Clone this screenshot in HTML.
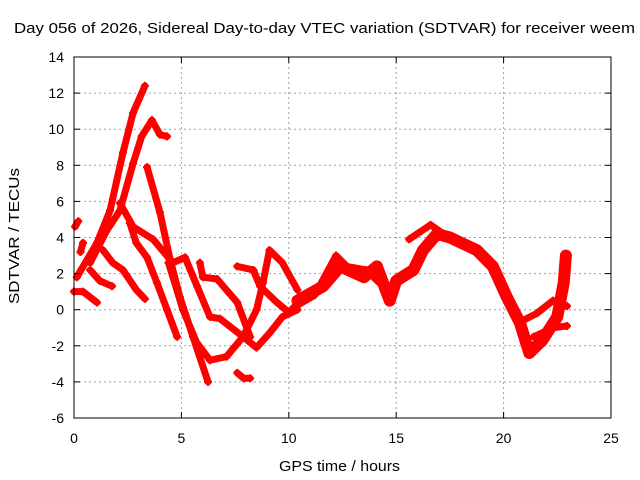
<!DOCTYPE html>
<html><head><meta charset="utf-8"><style>
body{margin:0;background:#fff}
svg{display:block;font-family:"Liberation Sans",sans-serif}
</style></head><body>
<svg id="chart" width="640" height="480" xmlns="http://www.w3.org/2000/svg">
<rect width="640" height="480" fill="#fff"/>
<text x="14" y="33" font-size="15" textLength="621" lengthAdjust="spacingAndGlyphs">Day 056 of 2026, Sidereal Day-to-day VTEC variation (SDTVAR) for receiver weem</text>
<text x="279" y="471" font-size="15" textLength="121" lengthAdjust="spacingAndGlyphs">GPS time / hours</text>
<text transform="translate(19,304) rotate(-90)" font-size="15" textLength="136" lengthAdjust="spacingAndGlyphs">SDTVAR / TECUs</text>
<g id="grid"></g><g id="series"></g><g id="axes"></g>
</svg>
<script>
const xTicks=[0,5,10,15,20,25];
const yTicks=[-6,-4,-2,0,2,4,6,8,10,12,14];
const trackA=[[0.13,1.8],[1.07,3.7],[1.68,5.5],[2.28,8.7],[2.75,10.9],[3.3,12.4]];
const trackB=[[0.75,2.6],[1.53,4.4],[2.14,5.5],[2.75,8.1],[3.15,9.6],[3.63,10.5],[4.0,9.7],[4.33,9.6]];
const trackC=[[3.4,7.9],[4.0,5.4],[4.47,2.8],[4.93,0.7],[5.54,-1.5],[6.24,-4.0]];
const trackD=[[2.14,5.9],[2.75,4.6],[3.68,3.9],[4.6,2.6],[5.17,2.9],[5.73,1.3],[6.33,-0.4],[6.8,-0.5],[7.87,-1.5],[8.5,-2.1],[9.1,-1.3],[9.7,-0.4],[10.4,0]];
const trackE=[[2.6,4.8],[2.9,3.7],[3.4,2.9],[3.86,1.5],[4.33,0],[4.8,-1.5]];
const trackF=[[4.4,2.6],[5.07,0],[5.7,-1.8],[6.33,-2.8],[7.1,-2.6],[7.87,-1.5],[8.5,0],[8.8,1.5],[9.1,3.3],[9.7,2.6],[10.4,1.1]];
const trackG=[[5.86,2.6],[6.0,1.8],[6.66,1.7],[7.6,0.4],[8.2,-1.5]];
const trackH=[[7.6,2.4],[8.35,2.2],[8.66,1.3],[9.45,0.4],[10.05,-0.2]];
const trackI=[[7.6,-3.5],[7.9,-3.8],[8.2,-3.8]];
const trackJ=[[0.05,4.6],[0.2,4.9]];
const trackK=[[0.42,3.7],[0.3,3.2]];
const trackL=[[0,1.0],[0.42,1.0],[1.07,0.4]];
const trackM=[[0.75,2.2],[1.2,1.6],[1.77,1.3]];
const trackN=[[1.35,3.3],[1.8,2.6],[2.28,2.2],[2.9,1.1],[3.3,0.6]];
const trackMain=[[10.4,0.5],[11.6,1.3],[12.4,2.4],[13.5,1.8],[14.1,2.4],[14.7,0.5],[15.0,1.6],[15.8,2.2],[16.25,3.3],[16.9,4.2],[17.5,4.0],[18.75,3.3],[19.5,2.4],[20.15,0.7],[20.75,-0.7],[21.2,-2.4],[21.8,-1.7],[22.5,-0.4],[22.8,1.5],[22.9,3.0]];
const trackP=[[10.2,0.1],[11.2,0.8],[12.2,3.0],[12.7,2.4],[13.6,2.2],[14.3,1.4]];
const trackQ=[[15.6,3.9],[16.6,4.7],[17.2,4.2]];
const trackR=[[20.9,-0.6],[21.55,-0.2],[22.3,0.5],[22.95,0.2]];
const trackS=[[21.4,-1.5],[22.3,-1.0],[22.95,-0.9]];
const tracks=[trackA,trackB,trackC,trackD,trackE,trackF,trackG,trackH,trackI,trackJ,trackK,trackL,trackM,trackN,trackMain,trackP,trackQ,trackR,trackS];
const L=74,R=611,T=57,B=418;
const sx=v=>L+(v-0)/(25-0)*(R-L);
const sy=v=>B-(v+6)/(20)*(B-T);
const NS='http://www.w3.org/2000/svg';
function mk(t,a,p){const e=document.createElementNS(NS,t);for(const k in a)e.setAttribute(k,a[k]);p.appendChild(e);return e;}
const grid=document.getElementById('grid'),axes=document.getElementById('axes'),ser=document.getElementById('series');
xTicks.forEach(v=>{const x=sx(v);
 if(v>0&&v<25){const g=mk('line',{x1:x,x2:x,y1:T,y2:B,stroke:'#a0a0a0','stroke-dasharray':'2,3'},grid);}
 mk('line',{x1:x,x2:x,y1:B,y2:B-6,stroke:'#000'},axes);mk('line',{x1:x,x2:x,y1:T,y2:T+6,stroke:'#000'},axes);
 const t=mk('text',{x:x,y:B+25,'font-size':14,'text-anchor':'middle'},axes);t.textContent=v;
 });
yTicks.forEach(v=>{const y=sy(v);
 if(v>-6&&v<14){const g=mk('line',{x1:L,x2:R,y1:y,y2:y,stroke:'#a0a0a0','stroke-dasharray':'2,3'},grid);}
 mk('line',{x1:L,x2:L+6,y1:y,y2:y,stroke:'#000'},axes);mk('line',{x1:R,x2:R-6,y1:y,y2:y,stroke:'#000'},axes);
 const t=mk('text',{x:L-10,y:y+5,'font-size':14,'text-anchor':'end'},axes);t.textContent=v;
 });
const bx=mk('rect',{x:L,y:T,width:R-L,height:B-T,fill:'none',stroke:'#000'},axes);

tracks.forEach((tr,i)=>{
 const w=tr===trackMain?12:7;
 const p=mk('polyline',{points:tr.map(d=>sx(d[0])+','+sy(d[1])).join(' '),fill:'none',stroke:'#ff0000','stroke-width':w,'stroke-linejoin':'round','stroke-linecap':'round'},ser);
 
 
 tr.forEach(d=>{const x=sx(d[0]),y=sy(d[1]);
  const m=mk('path',{d:`M${x-4},${y}h8M${x},${y-4}v8`,stroke:'#ff0000','stroke-width':2},ser);
  
  });
});
</script>
</body></html>
